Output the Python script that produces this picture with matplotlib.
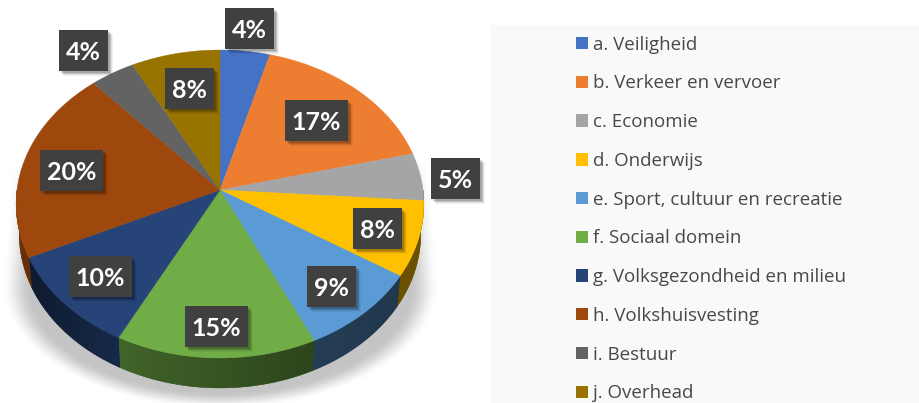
import numpy as np
import matplotlib
matplotlib.use("Agg")
import matplotlib.pyplot as plt
from matplotlib.patches import Polygon, Rectangle

# ---- data ----
categories = ["a. Veiligheid", "b. Verkeer en vervoer", "c. Economie", "d. Onderwijs",
              "e. Sport, cultuur en recreatie", "f. Sociaal domein",
              "g. Volksgezondheid en milieu", "h. Volkshuisvesting", "i. Bestuur", "j. Overhead"]
values = [4.3, 16.8, 5.0, 7.9, 9.0, 14.6, 10.4, 20.4, 3.9, 7.7]

# ---- styles / layout ----
colors = ["#4472c4", "#ed7d31", "#a5a5a5", "#ffc000", "#5b9bd5",
          "#70ad47", "#264478", "#9e480e", "#636363", "#997300"]
side_left = [.45, .45, .45, .42, .40, .58, .40, .70, .4, .4]
side_right = [.45, .45, .45, .42, .36, .40, .62, .62, .4, .4]
label_boxes = [(225, 8, 49), (285, 100, 63), (431, 158, 49), (353, 208, 49), (307, 266, 49),
               (185, 306, 63), (69, 256, 63), (40, 150, 63), (59, 30, 49), (165, 68, 49)]
BOX_H = 41
CX, CY = 220.0, 190.0
SX, SY, PERSP = 203.0, 152.7, 0.0909
DEPTH, SHRINK = 30.0, 0.985


def rim(theta):
    """Perspective projection of circle points; theta is clockwise from the top."""
    u, v = np.sin(theta), np.cos(theta)
    d = 1 + PERSP * v
    return CX + SX * u / d, CY - SY * v / d


fig = plt.figure(figsize=(9.19, 4.03), dpi=100, facecolor="white")
ax = fig.add_axes([0, 0, 1, 1])

# legend panel
ax.add_patch(Rectangle((491, 25), 428, 378, fc="#f9f9f9", ec="none", zorder=0))

# soft shadow below the pie
yy, xx = np.mgrid[150:403, 0:470]
yc = 285.0
t = np.clip((yy - 150) / (yc - 150), 0, 1)
rx = 208 + 11 * t
ry = np.where(yy > yc, 124.0, 1e6)
dist = np.sqrt(((xx - 220) / rx) ** 2 + ((yy - yc) / ry) ** 2)
alpha = np.clip((1.0 - dist) / 0.14, 0, 1)
alpha = alpha * alpha * (3 - 2 * alpha) * np.clip((yy - 160) / 30, 0, 1)
rgba = np.zeros(alpha.shape + (4,))
rgba[..., :3] = 0.77
rgba[..., 3] = alpha
ax.imshow(rgba, extent=(0, 470, 403, 150), interpolation="bilinear", zorder=1, aspect="auto")

# wedges
edges = np.cumsum([0] + values) / sum(values) * 2 * np.pi
handles = []
for i, (a0, a1) in enumerate(zip(edges[:-1], edges[1:])):
    c = np.array(matplotlib.colors.to_rgb(colors[i]))
    # side wall, only where the rim faces the viewer
    lo, hi = max(a0, np.pi / 2), min(a1, 3 * np.pi / 2)
    if hi > lo:
        x, y = rim(np.linspace(lo, hi, 60))
        xb, yb = CX + (x - CX) * SHRINK, y + DEPTH
        wall = np.r_[np.c_[x, y], np.c_[xb, yb][::-1]]
        fm = (side_left[i] + side_right[i]) / 2
        ax.add_patch(Polygon(wall, fc=c * fm, ec=c * fm, lw=0.3, zorder=2))
        clip = Polygon(wall, transform=ax.transData, fc="none", ec="none")
        ramp = np.linspace(side_left[i], side_right[i], 64)[None, :, None] * c[None, None, :]
        im = ax.imshow(ramp, extent=(wall[:, 0].min(), wall[:, 0].max(), wall[:, 1].max(),
                                     wall[:, 1].min()), aspect="auto", zorder=2.1,
                       interpolation="bilinear")
        im.set_clip_path(clip)
    x, y = rim(np.linspace(a0, a1, 80))
    ax.add_patch(Polygon(np.r_[[(CX, CY)], np.c_[x, y]], fc=colors[i], ec=colors[i], lw=0.3,
                         zorder=3))
    handles.append(Rectangle((0, 0), 1, 1, fc=colors[i], ec="none"))

# value labels
for v, (bx, by, bw) in zip(values, label_boxes):
    for off, al in ((5, .05), (4, .08), (3, .12), (2, .15)):
        ax.add_patch(Rectangle((bx + off, by + off), bw, BOX_H, fc="black", ec="none",
                               alpha=al, zorder=4))
    ax.add_patch(Rectangle((bx, by), bw, BOX_H, fc="#404040", ec="none", zorder=5))
    ax.text(bx + bw / 2, by + BOX_H / 2 + 1.5, f"{v:.0f}%", color="white", family="Lato",
            weight="bold", fontsize=18, ha="center", va="center", zorder=6)

ax.set_xlim(0, 919)
ax.set_ylim(403, 0)
ax.axis("off")

# legend
FS = 13.5
leg = ax.legend(handles, categories, loc="upper left", bbox_to_anchor=(576 / 919, 1 - 35.7 / 403),
                frameon=False, borderpad=0, borderaxespad=0,
                prop={"family": "Open Sans", "size": FS},
                handlelength=12 / (FS * 100 / 72), handleheight=12 / (FS * 100 / 72),
                handletextpad=0.27, labelspacing=1.106, labelcolor="#484848")
leg.set_zorder(7)

fig.savefig("out.png", dpi=100)
